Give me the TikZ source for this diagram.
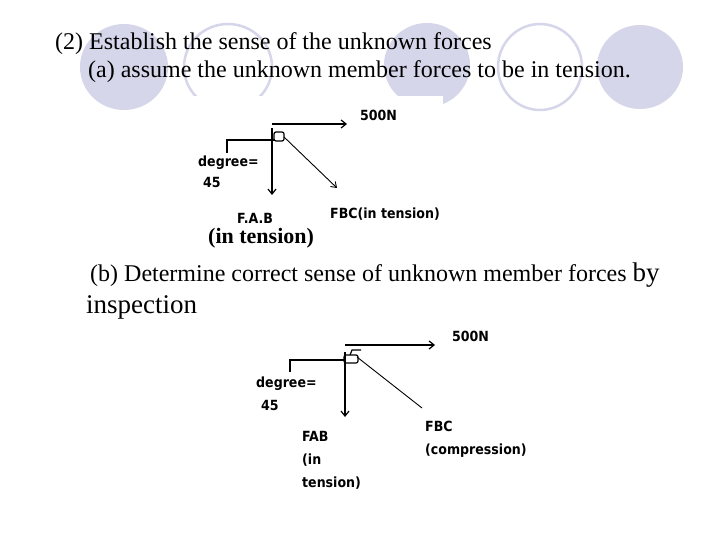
\documentclass[tikz,border=0pt]{standalone}
\usepackage{fontspec}
\usetikzlibrary{arrows.meta}
\setmainfont{Liberation Serif}
\newfontfamily\pix{DejaVu Sans Condensed}
\begin{document}
\begin{tikzpicture}[x=1pt,y=-1pt,
  tx/.style={font=\fontsize{24}{27}\selectfont,anchor=west,inner sep=0},
  lb/.style={font=\pix\bfseries\fontsize{14}{23}\selectfont,anchor=west,inner sep=0},
  ln/.style={line width=1.2pt},
  arr/.style={ln,-{Straight Barb[length=5pt,width=8pt]}}]
\definecolor{lavfill}{RGB}{214,214,234}
\useasboundingbox (0,0) rectangle (720,540);
\fill[white] (0,0) rectangle (720,540);
% decoration
\fill[lavfill] (124,67) ellipse (44 and 43);
\draw[lavfill,line width=2.5pt] (228,67) ellipse (44 and 43);
\fill[lavfill] (427,65) ellipse (43 and 42);
\draw[lavfill,line width=2.5pt] (540,67) ellipse (42 and 43);
\fill[lavfill] (640,67) ellipse (43 and 42);
\fill[white] (176,96) rectangle (443,250);
% texts
\node[tx] (t1) at (55,44) {(2) Establish the sense of the unknown forces};
\node[tx] (t2) at (88,72) {(a) assume the unknown member forces to be in tension.};
\node[tx] (t3) at (90,275) {(b) Determine correct sense of unknown member forces \fontsize{27}{30}\selectfont by};
\node[tx] (t4) at (86,307) {\fontsize{27}{30}\selectfont inspection};
% diagram 1
\coordinate (a0) at (272,124); \coordinate (a1) at (347,124);
\draw[arr] (a0) -- (a1);
\node[lb] (n500a) at (360,115) {500N};
\coordinate (v0) at (272,128); \coordinate (v1) at (272,195);
\draw[arr] (v0) -- (v1);
\draw[ln,rounded corners=2pt] (274,132) rectangle (284,141);
\coordinate (d0) at (284,137); \coordinate (d1) at (337,188);
\draw[-{Straight Barb[length=5pt,width=7pt]},line width=0.9pt] (d0) -- (d1);
\draw[ln] (227,153) -- (227,140) -- (274,140);
\node[lb] (dg1) at (198,163) {degree=};
\node[lb] (f1) at (203,182) {45};
\node[lb] (fab1) at (237,218) {F.A.B};
\node[font=\bfseries\fontsize{22}{24}\selectfont,anchor=west,inner sep=0] (it1) at (208,238) {(in tension)};
\node[lb] (fbc1) at (330,214) {FBC(in tension)};
% diagram 2
\coordinate (b0) at (345,345); \coordinate (b1) at (435,345);
\draw[arr] (b0) -- (b1);
\node[lb] (n500b) at (452,336) {500N};
\coordinate (w0) at (345,352); \coordinate (w1) at (345,417);
\draw[arr] (w0) -- (w1);
\draw[ln,rounded corners=2pt] (344,355) rectangle (358,363);
\draw[ln] (350,355) -- (352,350) -- (361,350);
\coordinate (e0) at (357,357); \coordinate (e1) at (422,408);
\draw[line width=0.9pt] (e0) -- (e1);
\draw[ln] (290,372) -- (290,360) -- (345,360);
\node[lb] (dg2) at (256,384) {degree=};
\node[lb] (f2) at (261,405) {45};
\node[lb,align=left,anchor=north west] (fab2) at (302,431) {FAB\\(in\\tension)};
\node[lb,align=left,anchor=north west] (fbc2) at (425,421) {FBC\\(compression)};
\end{tikzpicture}
\end{document}
